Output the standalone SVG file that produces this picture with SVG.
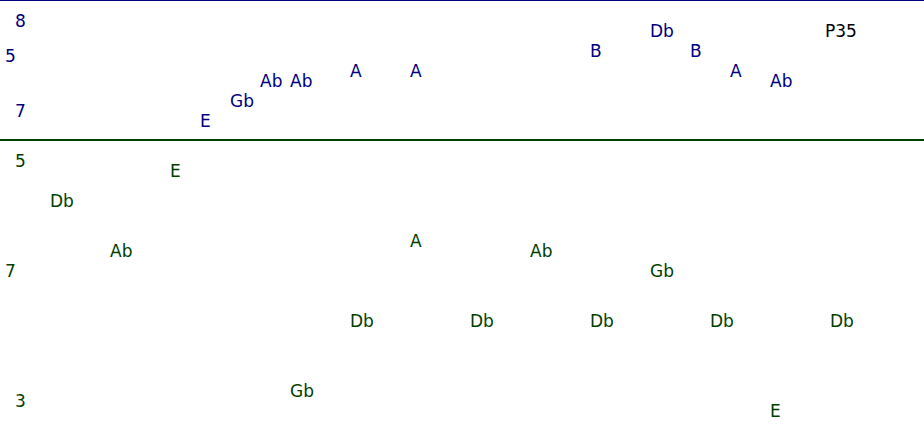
<svg xmlns="http://www.w3.org/2000/svg" width="924" height="440" viewBox="0 0 924 440">
<style>
text{font-family:"DejaVu Sans",sans-serif;font-size:17px}
.t{fill:#000080}
.b{fill:#004000}
.k{fill:#000000}
</style>
<rect width="924" height="440" fill="#ffffff"/>
<g id="lines">
<line x1="0" y1="0.5" x2="924" y2="0.5" stroke="#000080" stroke-width="1"/>
<line x1="0" y1="140" x2="924" y2="140" stroke="#004000" stroke-width="2"/>
</g>
<g id="top">
<text class="t" x="15" y="27">8</text>
<text class="t" x="5" y="62">5</text>
<text class="t" x="15" y="117">7</text>
<text class="t" x="200" y="127">E</text>
<text class="t" x="230" y="107">Gb</text>
<text class="t" x="260" y="87">Ab</text>
<text class="t" x="290" y="87">Ab</text>
<text class="t" x="350" y="77">A</text>
<text class="t" x="410" y="77">A</text>
<text class="t" x="590" y="57">B</text>
<text class="t" x="650" y="37">Db</text>
<text class="t" x="690" y="57">B</text>
<text class="t" x="730" y="77">A</text>
<text class="t" x="770" y="87">Ab</text>
<text class="k" x="825" y="37">P35</text>
</g>
<g id="bottom">
<text class="b" x="15" y="167">5</text>
<text class="b" x="170" y="177">E</text>
<text class="b" x="50" y="207">Db</text>
<text class="b" x="110" y="257">Ab</text>
<text class="b" x="5" y="277">7</text>
<text class="b" x="410" y="247">A</text>
<text class="b" x="530" y="257">Ab</text>
<text class="b" x="650" y="277">Gb</text>
<text class="b" x="350" y="327">Db</text>
<text class="b" x="470" y="327">Db</text>
<text class="b" x="590" y="327">Db</text>
<text class="b" x="710" y="327">Db</text>
<text class="b" x="830" y="327">Db</text>
<text class="b" x="290" y="397">Gb</text>
<text class="b" x="15" y="407">3</text>
<text class="b" x="770" y="417">E</text>
</g>
</svg>
